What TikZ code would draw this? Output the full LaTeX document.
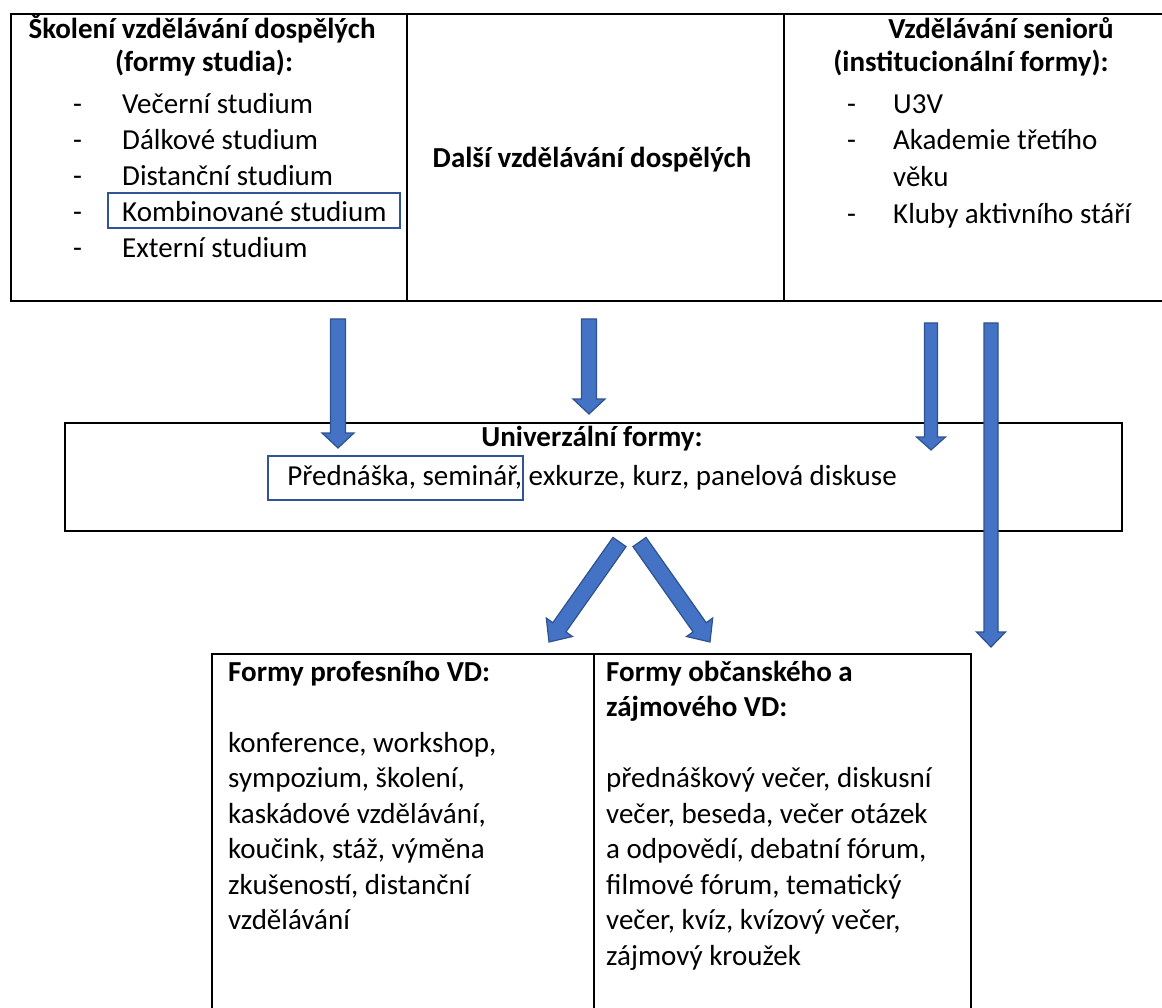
\documentclass[tikz,border=0pt]{standalone}
\usepackage{fontspec}
\setmainfont{Carlito}
\usetikzlibrary{calc}
\definecolor{afill}{HTML}{4472C4}
\definecolor{aedge}{HTML}{2F528F}
\definecolor{hlblue}{HTML}{2F5597}
\renewcommand{\arraystretch}{1}
\tikzset{
  box/.style={draw=black, line width=2pt, inner sep=0pt, anchor=north west},
  txt/.style={inner sep=0pt, font=\fontsize{29}{35.5}\selectfont},
  boldtxt/.style={inner sep=0pt, font=\fontsize{29}{35.5}\selectfont\bfseries},
  hl/.style={draw=hlblue, line width=1.6pt},
  barrow/.style={fill=afill, draw=aedge, line width=1.2pt, line join=miter},
}
\newcommand\blockarrow[5]{%
  \coordinate (hb) at ($(#2)!#5!(#1)$);
  \draw[barrow] ($(#1)!#3!90:(#2)$) -- ($(hb)!#3!90:(#2)$) -- ($(hb)!#4!90:(#2)$)
    -- (#2) -- ($(hb)!#4!-90:(#2)$) -- ($(hb)!#3!-90:(#2)$) -- ($(#1)!#3!-90:(#2)$) -- cycle;}
\begin{document}
\begin{tikzpicture}[x=1pt,y=-1pt]
\useasboundingbox (0,0) rectangle (1162,1008);
% top row
\node[box, minimum width=396pt, minimum height=287pt] (tl) at (10,13) {};
\node[box, minimum width=377pt, minimum height=287pt] (tm) at (406,13) {};
\node[box, minimum width=381pt, minimum height=287pt] (tr) at (783,13) {};
% middle
\node[box, minimum width=1057pt, minimum height=108pt] (uni) at (64,422) {};
% bottom
\node[box, minimum width=382pt, minimum height=362pt] (bl) at (211,653) {};
\node[box, minimum width=377pt, minimum height=362pt] (br) at (593,653) {};

% top-left text
\node[boldtxt, anchor=base] (tlh1) at (202,39) {Školení vzdělávání dospělých};
\node[boldtxt, anchor=base] (tlh2) at (204,72) {(formy studia):};
\node[txt, anchor=north west, font=\fontsize{29}{36}\selectfont] (tllist) at (73,87.8)
 {\begin{tabular}{@{}p{49pt}@{}l@{}}
 -&Večerní studium\\
 -&Dálkové studium\\
 -&Distanční studium\\
 -&Kombinované studium\\
 -&Externí studium
 \end{tabular}};
\draw[hl] (108,193) rectangle (400,228);

% middle top text
\node[boldtxt, anchor=base] (midt) at (592,168) {Další vzdělávání dospělých};

% top-right text
\node[boldtxt, anchor=base] (trh1) at (1001,39) {Vzdělávání seniorů};
\node[boldtxt, anchor=base] (trh2) at (971,72) {(institucionální formy):};
\node[txt, anchor=north west, font=\fontsize{29}{36.7}\selectfont] (trlist) at (847,87.3)
 {\begin{tabular}{@{}p{46pt}@{}l@{}}
 -&U3V\\
 -&Akademie třetího\\
 &věku\\
 -&Kluby aktivního stáří
 \end{tabular}};

% universal
\node[boldtxt, anchor=base] (unih) at (592,446) {Univerzální formy:};
\node[txt, anchor=base] (unit) at (592,485) {Přednáška, seminář, exkurze, kurz, panelová diskuse};
\draw[hl] (268,456) rectangle (523,500);

% bottom texts
\node[txt, anchor=north west] (bltext) at (228,656)
 {\begin{tabular}{@{}l@{}}
 \textbf{Formy profesního VD:}\\
 \\
 konference, workshop,\\
 sympozium, školení,\\
 kaskádové vzdělávání,\\
 koučink, stáž, výměna\\
 zkušeností, distanční\\
 vzdělávání
 \end{tabular}};
\node[txt, anchor=north west] (brtext) at (606,656)
 {\begin{tabular}{@{}l@{}}
 \textbf{Formy občanského a}\\
 \textbf{zájmového VD:}\\
 \\
 přednáškový večer, diskusní\\
 večer, beseda, večer otázek\\
 a odpovědí, debatní fórum,\\
 filmové fórum, tematický\\
 večer, kvíz, kvízový večer,\\
 zájmový kroužek
 \end{tabular}};

% arrows
\coordinate (a1s) at (338,319);  \coordinate (a1e) at (338,448);
\coordinate (a2s) at (589,319);  \coordinate (a2e) at (589,414);
\coordinate (a3s) at (931,323);  \coordinate (a3e) at (931,450);
\coordinate (a4s) at (991,323);  \coordinate (a4e) at (991,647);
\coordinate (d1s) at (619.5,542); \coordinate (d1e) at (549,642);
\coordinate (d2s) at (639.5,542); \coordinate (d2e) at (710,642);
\blockarrow{a1s}{a1e}{7.5pt}{16pt}{15pt}
\blockarrow{a2s}{a2e}{7.5pt}{16pt}{15pt}
\blockarrow{a3s}{a3e}{6.5pt}{14.5pt}{13pt}
\blockarrow{a4s}{a4e}{7pt}{14.5pt}{15pt}
\blockarrow{d1s}{d1e}{8pt}{16pt}{18pt}
\blockarrow{d2s}{d2e}{8pt}{16pt}{18pt}
\end{tikzpicture}
\end{document}
